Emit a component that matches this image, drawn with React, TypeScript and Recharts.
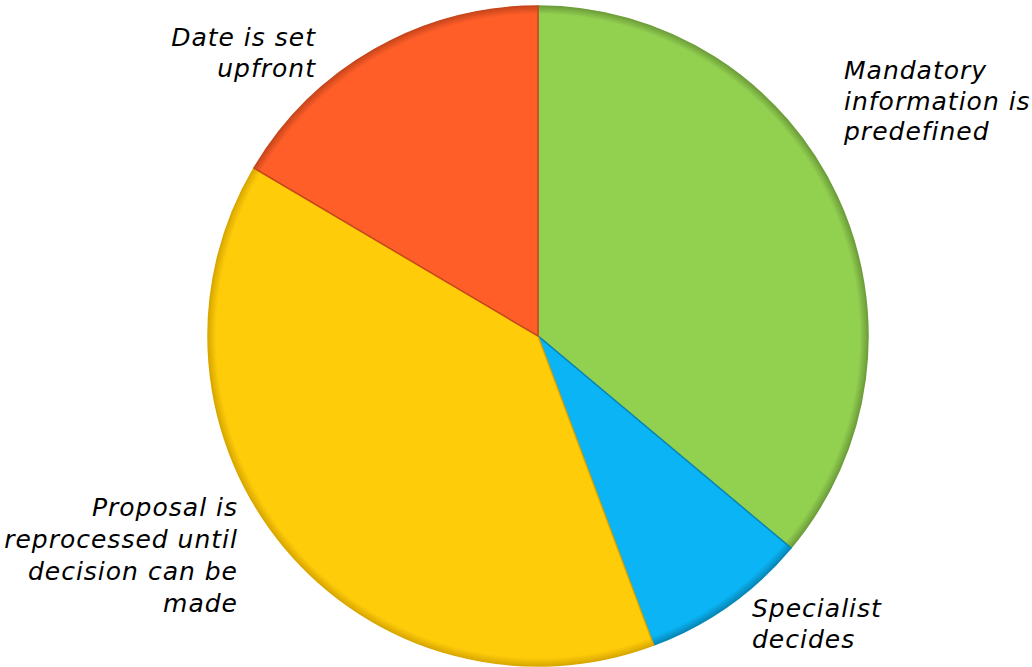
import React from 'react';
import { PieChart, Pie, Cell } from 'recharts';

const categories = [
  'Mandatory information is predefined',
  'Specialist decides',
  'Proposal is reprocessed until decision can be made',
  'Date is set upfront',
];
const values = [36.1, 8.2, 39.2, 16.5];
const labelLines = [
  ['Mandatory', 'information is', 'predefined'],
  ['Specialist', 'decides'],
  ['Proposal is', 'reprocessed until', 'decision can be', 'made'],
  ['Date is set', 'upfront'],
];
const colors = ['#92D050', '#0AB4F5', '#FFCC0A', '#FF5E28'];
const strokes = ['#6E9E3A', '#0788B8', '#D9A800', '#C8461C'];

const data = categories.map((name, i) => ({ name, value: values[i] }));

// label layout: anchor relative to pie centre, text alignment
const labelLayout = [
  { dx: 306, dy: -257, anchor: 'start', lh: 30.5 },
  { dx: 214, dy: 281, anchor: 'start', lh: 31 },
  { dx: -300, dy: 180, anchor: 'end', lh: 32 },
  { dx: -222, dy: -290, anchor: 'end', lh: 31 },
];

const renderLabel = (props: any) => {
  const { cx, cy, index } = props;
  const l = labelLayout[index];
  const lines = labelLines[index];
  return (
    <text
      key={`lbl-${index}`}
      x={cx + l.dx}
      y={cy + l.dy}
      textAnchor={l.anchor}
      fontFamily="'DejaVu Sans', sans-serif"
      fontStyle="italic"
      fontSize={25}
      letterSpacing={1}
      fill="#000"
    >
      {lines.map((t, j) => (
        <tspan key={j} x={cx + l.dx} dy={j === 0 ? 0 : l.lh}>
          {t}
        </tspan>
      ))}
    </text>
  );
};

export default function App() {
  return (
    <div style={{ position: 'absolute', left: 0, top: 0, width: 1032, height: 667, background: '#fff' }}>
      <PieChart width={1032} height={667} margin={{ top: 0, right: 0, bottom: 0, left: 0 }}>
        <defs>
          {colors.map((c, i) => (
            <radialGradient key={i} id={`g${i}`} cx="538" cy="336" r="330" gradientUnits="userSpaceOnUse">
              <stop offset="0%" stopColor={c} />
              <stop offset="97.5%" stopColor={c} />
              <stop offset="100%" stopColor={strokes[i]} />
            </radialGradient>
          ))}
        </defs>
        <Pie
          data={data}
          dataKey="value"
          nameKey="name"
          cx={538}
          cy={336}
          outerRadius={330}
          startAngle={90}
          endAngle={-270}
          stroke="none"
          label={renderLabel}
          labelLine={false}
          isAnimationActive={false}
        >
          {data.map((d, i) => (
            <Cell key={d.name} fill={`url(#g${i})`} stroke={strokes[i]} strokeWidth={1.5} />
          ))}
        </Pie>
      </PieChart>
    </div>
  );
}
